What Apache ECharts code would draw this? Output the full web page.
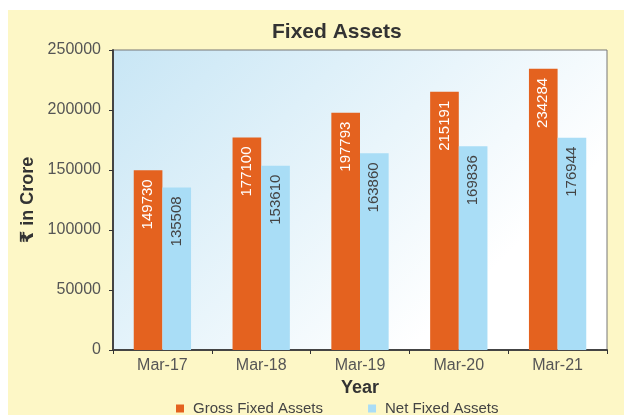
<!DOCTYPE html>
<html>
<head>
<meta charset="utf-8">
<script src="https://cdn.jsdelivr.net/npm/echarts@6/dist/echarts.min.js"></script>
<style>
  html, body { margin: 0; padding: 0; background: #ffffff; }
  #ChartDom { position: absolute; left: 8px; top: 10px; width: 616px; height: 405px; background: #fdf7c6; }
</style>
</head>
<body>
<div id="ChartDom"></div>
<script>
const years = ["Mar-17", "Mar-18", "Mar-19", "Mar-20", "Mar-21"]
const grossFixedAssets = [149730, 177100, 197793, 215191, 234284]
const netFixedAssets = [135508, 153610, 163860, 169836, 176944]
const yTicks = [0, 50000, 100000, 150000, 200000, 250000]

const chartDom = document.getElementById("ChartDom")
const myChart = echarts.init(chartDom)
const font = "'Liberation Sans', Arial, 'DejaVu Sans', sans-serif"

const barLabel = (color) => ({
  show: true,
  position: "insideTop",
  rotate: 90,
  align: "right",
  verticalAlign: "middle",
  distance: 9,
  color: color,
  fontSize: 15,
  fontFamily: font,
})

let option = {
  animation: false,
  textStyle: { fontFamily: font },
  title: {
    text: "Fixed Assets",
    left: 259,
    top: 7,
    textStyle: { fontSize: 21, fontWeight: "bold", color: "#333333", fontFamily: font },
  },
  color: ["#e4621f", "#a9ddf6"],
  legend: {
    top: 386,
    left: 163,
    icon: "rect",
    itemWidth: 8,
    itemHeight: 8,
    itemGap: 45,
    textStyle: { color: "#444444", fontSize: 15, fontFamily: font, padding: [0, 0, 0, 4] },
    data: ["Gross Fixed Assets", "Net Fixed Assets"],
  },
  grid: {
    top: 40,
    left: 105,
    right: 17,
    bottom: 65,
    outerBoundsMode: "none",
    containLabel: false,
    show: true,
    borderColor: "#777777",
    borderWidth: 1,
    backgroundColor: {
      type: "linear",
      x: 0, y: 0, x2: 0.6, y2: 1,
      colorStops: [
        { offset: 0, color: "#c8e6f5" },
        { offset: 1, color: "#ffffff" },
      ],
    },
  },
  xAxis: {
    type: "category",
    data: years,
    name: "Year",
    nameLocation: "middle",
    nameGap: 26,
    nameTextStyle: { fontSize: 18, fontWeight: "bold", color: "#333333", fontFamily: font },
    axisLine: { show: true, lineStyle: { color: "#444444", width: 2 } },
    axisTick: { show: true, length: 4, lineStyle: { color: "#333333" } },
    axisLabel: { color: "#555555", fontSize: 16, margin: 8, fontFamily: font },
  },
  yAxis: {
    type: "value",
    min: yTicks[0],
    max: yTicks[yTicks.length - 1],
    interval: 50000,
    name: "₹ in Crore",
    nameLocation: "middle",
    nameGap: 72,
    nameTextStyle: { fontSize: 18, fontWeight: "bold", color: "#333333", fontFamily: font },
    axisLine: { show: true, lineStyle: { color: "#444444", width: 2 } },
    axisTick: { show: true, length: 4, lineStyle: { color: "#333333" } },
    splitLine: { show: false },
    axisLabel: {
      color: "#555555",
      fontSize: 16,
      margin: 12,
      fontFamily: font,
      formatter: (v) => String(v),
    },
  },
  series: [
    {
      name: "Gross Fixed Assets",
      type: "bar",
      data: grossFixedAssets,
      barGap: "0%",
      barCategoryGap: "42%",
      label: barLabel("#ffffff"),
    },
    {
      name: "Net Fixed Assets",
      type: "bar",
      data: netFixedAssets,
      label: barLabel("#444444"),
    },
  ],
}
myChart.setOption(option)
</script>
</body>
</html>
